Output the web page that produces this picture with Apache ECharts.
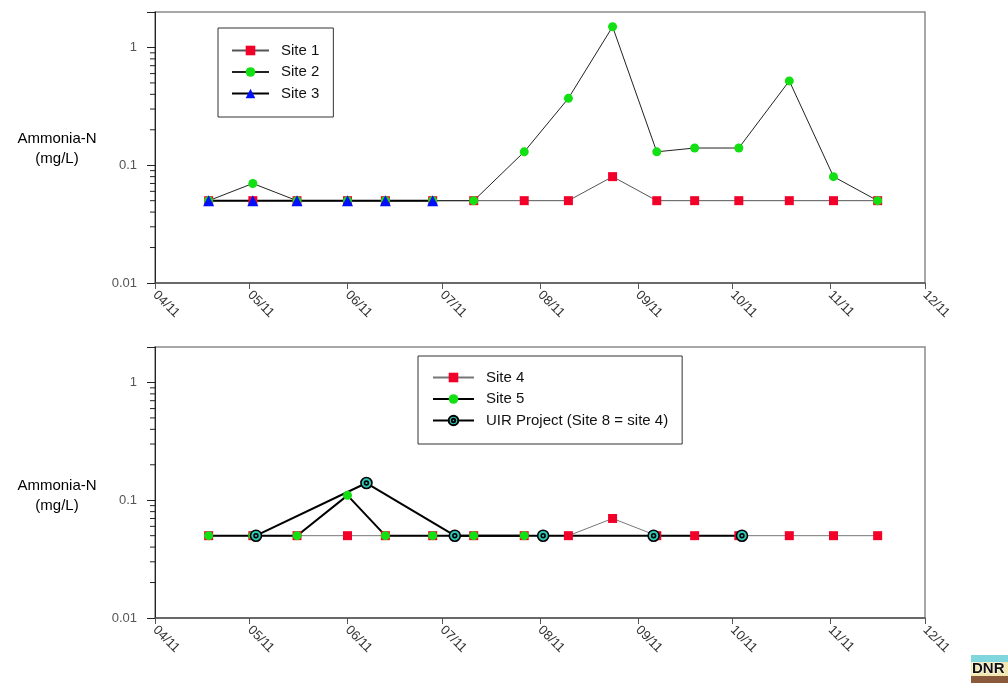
<!DOCTYPE html>
<html>
<head>
<meta charset="utf-8">
<script src="https://cdn.jsdelivr.net/npm/echarts@6/dist/echarts.min.js"></script>
<style>
  html, body { margin: 0; padding: 0; background: #fff; }
  #chart { width: 1008px; height: 683px; }
</style>
</head>
<body>
<div id="chart"></div>
<script>
// Sampling calendar shared by the routine sites
const sampleDates = [
  '2011-04-18', '2011-05-02', '2011-05-16', '2011-06-01', '2011-06-13', '2011-06-28',
  '2011-07-11', '2011-07-27', '2011-08-10', '2011-08-24', '2011-09-07', '2011-09-19',
  '2011-10-03', '2011-10-19', '2011-11-02', '2011-11-16'
];
// Ammonia-N (mg/L)
const site1 = [0.05, 0.05, 0.05, 0.05, 0.05, 0.05, 0.05, 0.05, 0.05, 0.08, 0.05, 0.05, 0.05, 0.05, 0.05, 0.05];
const site2 = [0.05, 0.07, 0.05, 0.05, 0.05, 0.05, 0.05, 0.13, 0.37, 1.5, 0.13, 0.14, 0.14, 0.52, 0.08, 0.05];
const site3Dates = ['2011-04-18', '2011-05-02', '2011-05-16', '2011-06-01', '2011-06-13', '2011-06-28'];
const site3 = [0.05, 0.05, 0.05, 0.05, 0.05, 0.05];

const site4 = [0.05, 0.05, 0.05, 0.05, 0.05, 0.05, 0.05, 0.05, 0.05, 0.07, 0.05, 0.05, 0.05, 0.05, 0.05, 0.05];
const site5Dates = ['2011-04-18', '2011-05-02', '2011-05-16', '2011-06-01', '2011-06-13', '2011-06-28', '2011-07-11', '2011-07-27'];
const site5 = [0.05, 0.05, 0.05, 0.11, 0.05, 0.05, 0.05, 0.05];
const uirDates = ['2011-05-03', '2011-06-07', '2011-07-05', '2011-08-02', '2011-09-06', '2011-10-04'];
const uir = [0.05, 0.14, 0.05, 0.05, 0.05, 0.05];

// Axis extents and tick labels
const xStart = '2011-04-01';
const xEnd = '2011-12-01';
const yMin = 0.01;
const yMax = 2;
const decadeLabels = { '-2': '0.01', '-1': '0.1', '0': '1' };
const minorTicks = [0.02, 0.03, 0.04, 0.05, 0.06, 0.07, 0.08, 0.09,
                    0.2, 0.3, 0.4, 0.5, 0.6, 0.7, 0.8, 0.9];

const yName = 'Ammonia-N\n(mg/L)';
const topLegend = ['Site 1', 'Site 2', 'Site 3'];
const bottomLegend = ['Site 4', 'Site 5', 'UIR Project (Site 8 = site 4)'];

const FONT = '"Liberation Sans", Arial, sans-serif';
const RED = '#f2002a';
const GREEN = '#12e012';
const BLUE = '#0010ff';
const TEAL = '#2ec8b8';
// ringed circle marker: outer disc with a small inner ring
const RING = 'path://M0,-10A10,10 0 1,1 0,10A10,10 0 1,1 0,-10ZM0,-3.5A3.5,3.5 0 1,1 0,3.5A3.5,3.5 0 1,1 0,-3.5Z';

const zip = (dates, vals) => dates.map((d, i) => [d, vals[i]]);

const grids = [
  { left: 155, top: 12, width: 770, height: 271 },
  { left: 155, top: 347, width: 770, height: 271 }
];

function xAxisFor(i) {
  return {
    type: 'time', gridIndex: i, min: xStart, max: xEnd,
    splitNumber: 8, minInterval: 28 * 864e5, maxInterval: 31 * 864e5,
    axisLine: { lineStyle: { color: '#555', width: 1.5 } },
    axisTick: { show: true, length: 6, lineStyle: { color: '#555', width: 1 } },
    splitLine: { show: false },
    axisLabel: {
      rotate: -45, margin: 10, color: '#333', fontSize: 13, fontFamily: FONT,
      showMinLabel: true, showMaxLabel: true, hideOverlap: false,
      formatter: v => {
        const d = new Date(v);
        return String(d.getMonth() + 1).padStart(2, '0') + '/' + String(d.getFullYear() % 100).padStart(2, '0');
      }
    }
  };
}

function yAxisFor(i) {
  return {
    type: 'log', logBase: 10, gridIndex: i, min: yMin, max: yMax,
    axisLine: { show: true, lineStyle: { color: '#222', width: 1 } },
    axisTick: { show: true, length: 8, lineStyle: { color: '#222', width: 1 } },
    splitLine: { show: false },
    axisLabel: {
      margin: 18, color: '#555', fontSize: 13, fontFamily: FONT,
      formatter: v => {
        const e = Math.log10(v);
        const r = Math.round(e);
        return Math.abs(e - r) < 1e-6 && decadeLabels[r] !== undefined ? decadeLabels[r] : '';
      }
    }
  };
}

// Short outward ticks at 2..9 within each decade
function minorTickSeries(i) {
  return {
    type: 'custom', xAxisIndex: i, yAxisIndex: i, clip: false, silent: true, z: 5,
    data: minorTicks.map(v => [xStart, v]),
    renderItem: (params, api) => {
      const p = api.coord([api.value(0), api.value(1)]);
      return {
        type: 'line',
        shape: { x1: p[0] - 5, y1: p[1], x2: p[0], y2: p[1] },
        style: { stroke: '#222', lineWidth: 1 }
      };
    }
  };
}

function lineSeries(name, i, data, opts) {
  return {
    name, type: 'line', xAxisIndex: i, yAxisIndex: i, data,
    symbol: opts.symbol, symbolSize: opts.size, symbolKeepAspect: true,
    lineStyle: { color: opts.line, width: opts.width },
    itemStyle: Object.assign({ color: opts.fill }, opts.border || {}),
    emphasis: { disabled: true }
  };
}

function legendFor(i, names, left, top, pad) {
  return {
    orient: 'vertical', left, top, data: names,
    padding: pad, itemGap: 4.5, itemWidth: i === 0 ? 37 : 41, itemHeight: 12,
    borderColor: '#333', borderWidth: 1, backgroundColor: '#fff',
    selectedMode: false,
    textStyle: { fontFamily: FONT, fontSize: 15, color: '#111', lineHeight: 17, padding: [0, 0, 0, 7] }
  };
}

const nameStyle = { text: yName, font: '15px ' + FONT, fill: '#000', textAlign: 'center', textVerticalAlign: 'middle', lineHeight: 20 };

const option = {
  animation: false,
  backgroundColor: '#fff',
  grid: grids.map(g => Object.assign({ show: true, borderColor: '#8a8a8a', borderWidth: 1.5, backgroundColor: 'transparent' }, g)),
  xAxis: [xAxisFor(0), xAxisFor(1)],
  yAxis: [yAxisFor(0), yAxisFor(1)],
  legend: [
    legendFor(0, topLegend, 218, 28, [14, 14, 15, 13]),
    legendFor(1, bottomLegend, 418, 356, [13, 14, 15, 14])
  ],
  graphic: [
    { type: 'text', x: 57, y: 149, style: nameStyle },
    { type: 'text', x: 57, y: 496, style: nameStyle },
    // agency badge in the corner
    { type: 'rect', shape: { x: 971, y: 655, width: 37, height: 7 }, style: { fill: '#7fd6dc' } },
    { type: 'rect', shape: { x: 971, y: 662, width: 37, height: 14 }, style: { fill: '#f3e9b0' } },
    { type: 'rect', shape: { x: 971, y: 676, width: 37, height: 7 }, style: { fill: '#8a5a3c' } },
    { type: 'text', style: { x: 972, y: 661, text: 'DNR', font: 'bold 15px ' + FONT, fill: '#111', stroke: '#fff', lineWidth: 1 } }
  ],
  series: [
    minorTickSeries(0),
    minorTickSeries(1),
    lineSeries('Site 1', 0, zip(sampleDates, site1), { symbol: 'rect', size: 9, line: '#555', width: 1, fill: RED }),
    lineSeries('Site 2', 0, zip(sampleDates, site2), { symbol: 'circle', size: 9, line: '#222', width: 1, fill: GREEN }),
    lineSeries('Site 3', 0, zip(site3Dates, site3), { symbol: 'triangle', size: 11, line: '#000', width: 2, fill: BLUE }),
    lineSeries('Site 4', 1, zip(sampleDates, site4), { symbol: 'rect', size: 9, line: '#777', width: 1, fill: RED }),
    lineSeries('Site 5', 1, zip(site5Dates, site5), { symbol: 'circle', size: 9, line: '#000', width: 2, fill: GREEN }),
    lineSeries('UIR Project (Site 8 = site 4)', 1, zip(uirDates, uir), {
      symbol: RING, size: 11, line: '#000', width: 2, fill: TEAL,
      border: { borderColor: '#000', borderWidth: 1.6 }
    })
  ]
};

const chart = echarts.init(document.getElementById('chart'), null, { renderer: 'canvas' });
chart.setOption(option);
</script>
</body>
</html>
